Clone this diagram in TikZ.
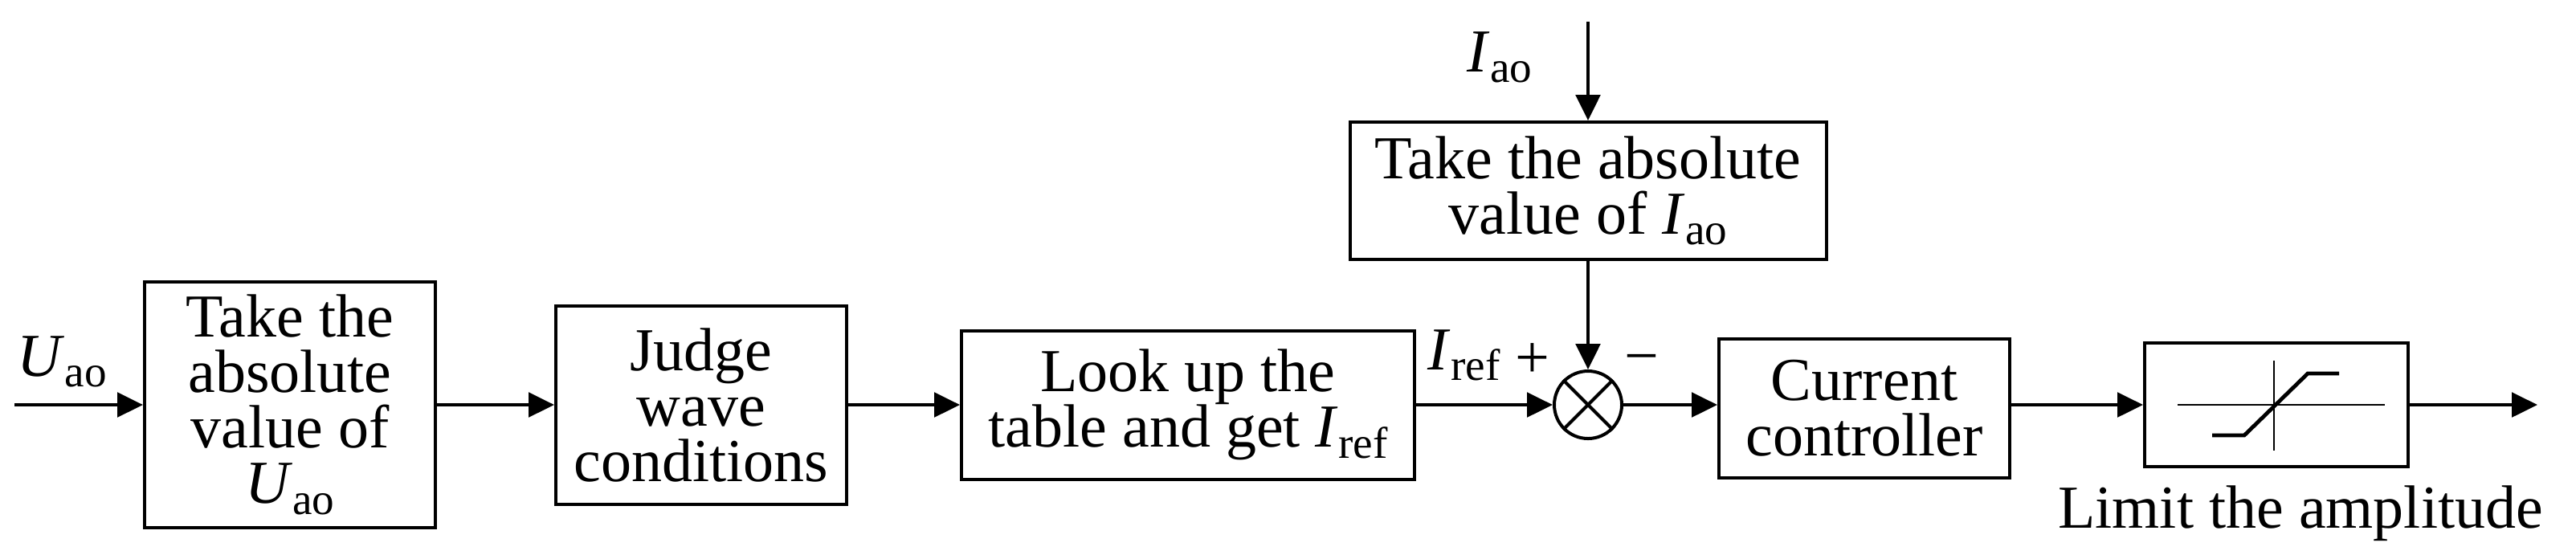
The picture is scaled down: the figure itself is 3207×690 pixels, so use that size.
\documentclass[tikz,border=0pt]{standalone}
\usepackage{fontspec}
\setmainfont{Liberation Serif}
\usetikzlibrary{arrows.meta}
\newcommand\lsub[1]{\raisebox{-3.4pt}{\fontsize{13.8pt}{13.8pt}\selectfont #1}}
\begin{document}
\begin{tikzpicture}[x=0.25pt,y=-0.25pt,
  every node/.style={font=\fontsize{19pt}{17.25pt}\selectfont},
  blk/.style={draw,line width=1pt,inner sep=0pt,align=center},
  conn/.style={line width=1.1pt,-{Triangle[length=8pt,width=7.6pt]}},
  lbl/.style={inner sep=0pt,anchor=base west}]
\useasboundingbox (0,0) rectangle (3207,690);
% blocks
\node[blk,minimum width=90.5pt,minimum height=76.5pt] (b1) at (361,504) {Take the\\absolute\\value of\\\textit{U}\lsub{ao}};
\node[blk,minimum width=90.5pt,minimum height=61.75pt] (b2) at (873,504) {Judge\\wave\\conditions};
\node[blk,minimum width=141pt,minimum height=46.25pt] (b3) at (1479,504) {Look up the\\table and get \textit{I}\lsub{ref}};
\node[blk,minimum width=148.25pt,minimum height=42.75pt] (bt) at (1977,237.5) {Take the absolute\\value of \textit{I}\lsub{ao}};
\node[draw,circle,line width=1pt,minimum size=21pt,inner sep=0pt] (c) at (1977,504) {};
\draw[line width=1pt] (c.north west) -- (c.south east) (c.north east) -- (c.south west);
\node[blk,minimum width=90.5pt,minimum height=43.25pt] (b5) at (2321,508.5) {Current\\controller};
\node[blk,minimum width=82pt,minimum height=38.5pt] (lim) at (2834,504) {};
% limiter symbol
\draw[line width=0.35pt] (2711,504) -- (2969,504);
\draw[line width=0.35pt] (2831,449) -- (2831,561);
\draw[line width=1.2pt] (2754,542) -- (2794,542) -- (2873,465) -- (2912,465);
% free ends
\coordinate (in) at (18,504);
\coordinate (top) at (1977,27);
\coordinate (out) at (3159,504);
% connectors
\draw[conn] (in) -- (b1.west);
\draw[conn] (b1.east) -- (b2.west);
\draw[conn] (b2.east) -- (b3.west);
\draw[conn] (b3.east) -- (c.west);
\draw[conn] (top) -- (bt.north);
\draw[conn] (bt.south) -- (c.north);
\draw[conn] (c.east) -- (c.east -| b5.west);
\draw[conn] (b5.east |- lim.west) -- (lim.west);
\draw[conn] (lim.east) -- (out);
% labels
\node[lbl] (ulab) at (21,468) {\textit{U}\lsub{ao}};
\node[lbl] (ilab) at (1826,89) {\textit{I}\lsub{ao}};
\node[lbl] (ireflab) at (1777,460) {\textit{I}\lsub{ref}};
\node[lbl] (plus) at (1886,470) {+};
\node[lbl] (minus) at (2022,468) {−};
\node[inner sep=0pt,anchor=base] (limlab) at (2864,657) {Limit the amplitude};
\end{tikzpicture}
\end{document}
